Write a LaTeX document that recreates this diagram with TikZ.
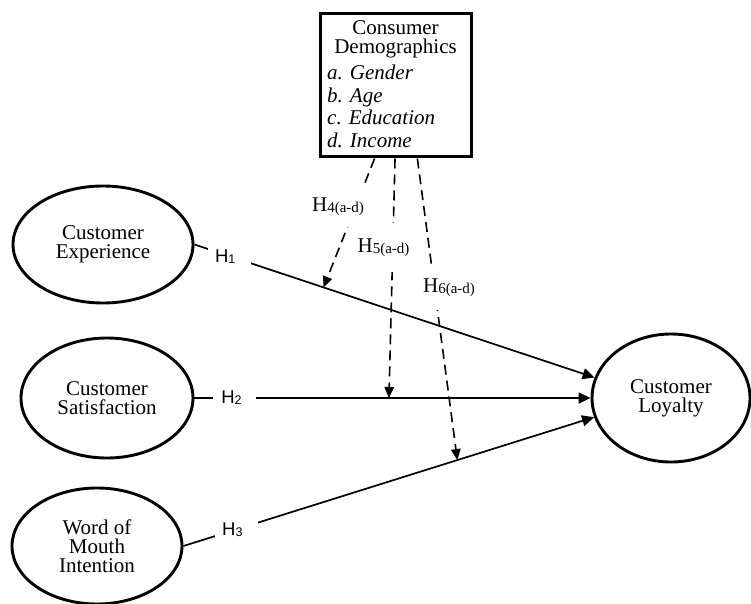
\documentclass[tikz,border=0pt]{standalone}
\usepackage{fontspec}
\setmainfont{Liberation Serif}
\newfontfamily\hsans{Liberation Sans}
\usetikzlibrary{shapes.geometric,arrows.meta,calc}
\begin{document}
\begin{tikzpicture}[x=1pt,y=-1pt,
  construct/.style={ellipse, draw, line width=2.9pt, inner sep=0pt, align=center,
    font=\fontsize{21}{19}\selectfont},
  boxtext/.style={inner sep=0pt, font=\fontsize{21}{22.4}\selectfont},
  hpath/.style={line width=1.7pt, -{Triangle[length=12pt,width=11pt]}},
  modarrow/.style={line width=1.6pt, dash pattern=on 10pt off 6pt,
    -{Triangle[length=11pt,width=9.5pt]}},
  hlab/.style={fill=white, inner sep=0pt, minimum width=43pt, minimum height=22pt,
    font=\hsans\fontsize{18.5}{20}\selectfont},
  mlab/.style={fill=white, inner sep=0pt, font=\fontsize{21}{22}\selectfont},
]
\useasboundingbox (0,0) rectangle (751,604);

% constructs
\node[construct, minimum width=180, minimum height=117] (ce) at (103,244.5) {Customer\\Experience};
\node[construct, minimum width=172, minimum height=120] (cs) at (107,398) {Customer\\Satisfaction};
\node[construct, minimum width=170, minimum height=116] (wom) at (97,546) {Word of\\Mouth\\Intention};
\node[construct, minimum width=158, minimum height=128] (cl) at (671,398) {Customer\\Loyalty};

% moderator box
\node[draw, line width=3pt, minimum width=151, minimum height=143, inner sep=0pt] (demo) at (395.5,85.5) {};
\node[inner sep=0pt, align=center, font=\fontsize{21}{19}\selectfont, anchor=north] (dt) at (395.5,20.5) {Consumer\\Demographics};
\node[boxtext, anchor=base west, align=left] (di) at (327,147) {\itshape a. Gender\\\itshape b. Age\\\itshape c. Education\\\itshape d. Income};

% main paths
\draw[hpath] (ce.east) -- (cl.165);
\draw[hpath] (cs.east) -- (cl.west);
\draw[hpath] (wom.east) -- (cl.194.5);

% moderation targets and starts
\coordinate (t1) at ($(ce.east)!0.3226!(cl.165)$);
\coordinate (t2) at ($(cs.east)!0.491!(cl.west)$);
\coordinate (t3) at ($(wom.east)!0.667!(cl.194.5)$);
\coordinate (s1) at ($(demo.south west)!0.364!(demo.south east)$);
\coordinate (s2) at ($(demo.south west)!0.497!(demo.south east)$);
\coordinate (s3) at ($(demo.south west)!0.642!(demo.south east)$);

\draw[modarrow] (s1) -- (t1);
\draw[modarrow] (s2) -- (t2);
\draw[modarrow] (s3) -- (t3);

% hypothesis labels
\node[hlab] (h1) at ($(ce.east)!0.088!(cl.165)$) {\hspace*{-9pt}H\raisebox{-1pt}{\fontsize{12.5}{13}\selectfont 1}};
\node[hlab] (h2) at (234.5,398) {\hspace*{-6pt}H\raisebox{-1pt}{\fontsize{12.5}{13}\selectfont 2}};
\node[hlab] (h3) at ($(wom.east)!0.130!(cl.194.5)$) {\hspace*{-9pt}H\raisebox{-1pt}{\fontsize{12.5}{13}\selectfont 3}};

\node[mlab, minimum width=60, minimum height=40] (h4) at (338,207) {H\raisebox{-1pt}{\fontsize{15}{16}\selectfont 4(a-d)}};
\node[mlab, minimum width=57, minimum height=49] (h5) at (383.5,247.5) {H\raisebox{-1pt}{\fontsize{15}{16}\selectfont 5(a-d)}};
\node[mlab, minimum width=56, minimum height=45] (h6) at (449,287.5) {H\raisebox{-1pt}{\fontsize{15}{16}\selectfont 6(a-d)}};
\end{tikzpicture}
\end{document}
